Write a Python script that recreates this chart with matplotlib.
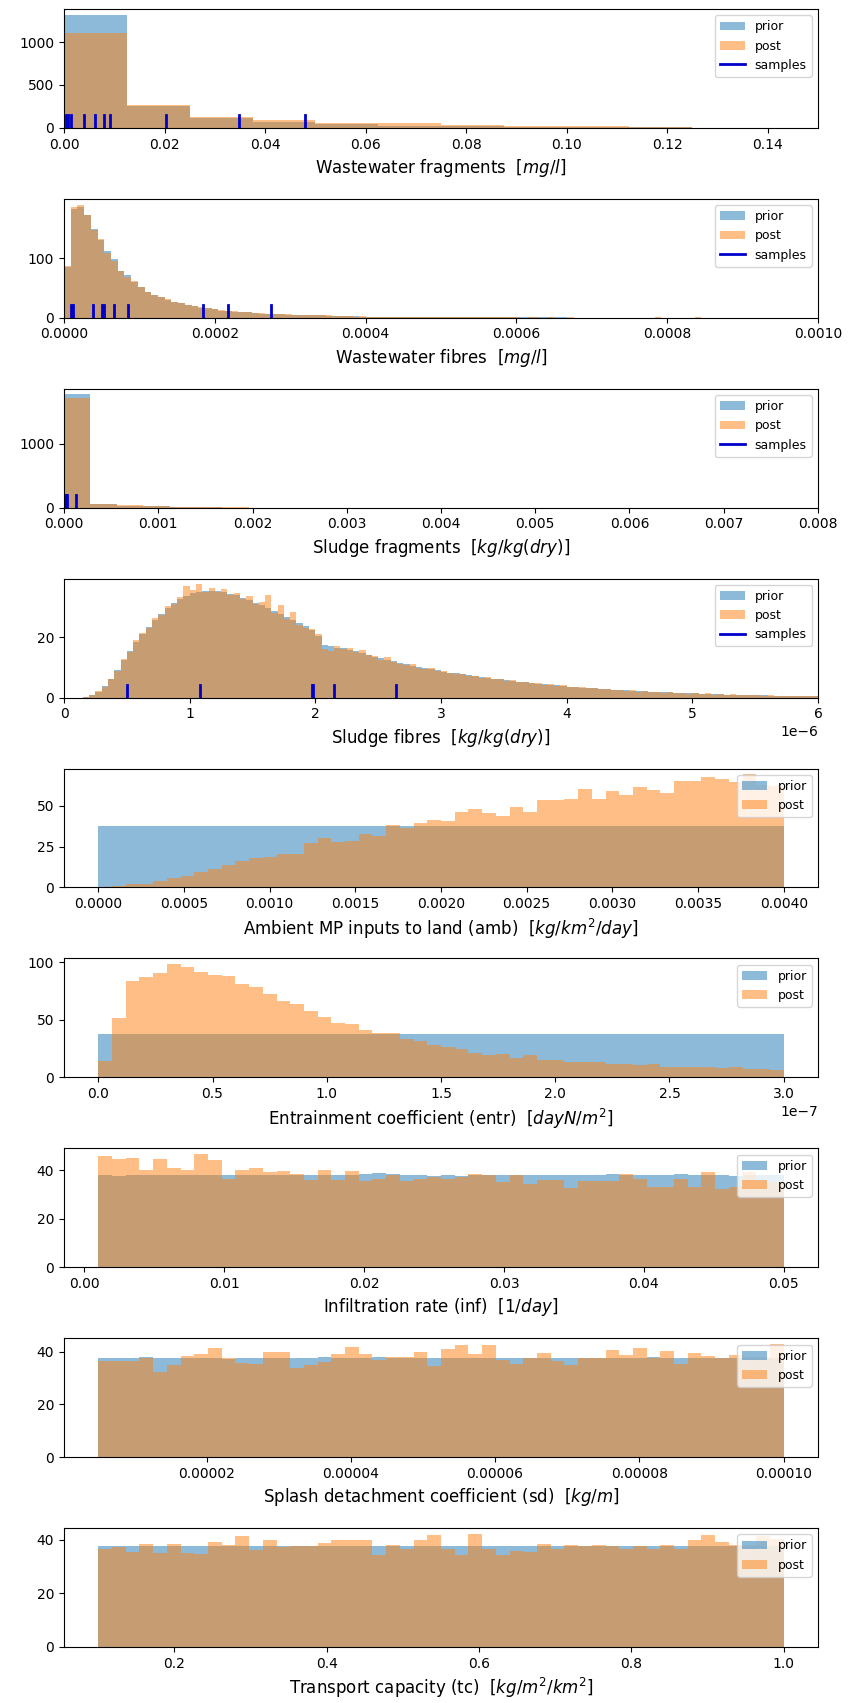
import numpy as np
import matplotlib
matplotlib.use('Agg')
import matplotlib.pyplot as plt

# ---- panel 1: wastewater fragments (bin counts)
frag_lo, frag_width = 0.0, 0.0125
frag_prior = [1320, 252, 112, 72, 40, 24, 16, 12, 10, 6, 4, 3]
frag_post = [1110, 268, 128, 88, 56, 56, 32, 24, 24, 8, 4, 3]
frag_samples = [0.0003, 0.0007, 0.0013, 0.0039, 0.0062, 0.0079, 0.0092, 0.0203, 0.0349, 0.0479]

# ---- panel 2: wastewater fibres
fib_lo, fib_width = 0.0, 0.0000089
fib_post = [87, 186, 190, 173, 147, 132, 108, 95, 79, 68,
            61, 51, 44, 38, 34, 31, 27, 24, 21, 20,
            18, 16, 14, 13, 11, 11, 10, 9, 8, 8,
            7, 7, 6, 6, 5, 5, 5, 4, 4, 4,
            3, 3, 3, 2, 3, 2, 2, 2, 2, 2,
            2, 1, 2, 1, 1, 1, 2, 1, 1, 1,
            1, 1, 1, 1, 1, 1, 1, 1, 0, 1,
            1, 0, 1, 0, 0, 1, 0, 0, 0, 0,
            0, 0, 0, 0, 0, 0, 0, 0, 1, 0,
            0, 0, 0, 0, 1]
fib_prior = [85, 182, 186, 172, 149, 131, 112, 98, 78, 71,
             60, 52, 43, 39, 35, 30, 27, 25, 21, 19,
             17, 16, 14, 12, 11, 10, 10, 9, 8, 7,
             7, 6, 6, 5, 5, 5, 4, 4, 4, 3,
             3, 3, 3, 3, 2, 2, 2, 2, 2, 2,
             2, 2, 1, 1, 1, 1, 1, 1, 1, 1,
             1, 1, 1, 1, 1, 1, 1, 1, 1, 1,
             1, 1, 1, 1, 1, 0, 0]
fib_samples = [0.0000086, 0.0000115, 0.000038, 0.000051, 0.000053, 0.000066, 0.000085,
               0.000184, 0.000218, 0.000274]

# ---- panel 3: sludge fragments
sfrag_lo, sfrag_width = 0.0, 0.00028
sfrag_prior = [1765, 55, 30, 20, 12, 8, 0]
sfrag_post = [1715, 62, 36, 26, 16, 14, 14]
sfrag_samples = [0.000008, 0.000018, 0.00003, 0.000125]

# ---- panel 4: sludge fibres
sfib_lo, sfib_width = 0.15e-6, 0.05e-6
sfib_prior = [0.2, 0.8, 2.0, 3.8, 6.0, 9.0, 12.5, 15.5, 18.5, 21.0,
              23.5, 25.8, 27.8, 29.8, 31.5, 32.8, 33.8, 34.6, 35.2, 35.5,
              35.5, 35.3, 35.0, 34.5, 33.9, 33.2, 32.4, 31.5, 30.6, 29.6,
              28.6, 27.6, 26.6, 25.6, 24.6, 23.6, 22.5, 20.5, 17.5, 17.0,
              16.5, 16.3, 15.9, 15.4, 14.8, 14.2, 13.6, 13.0, 12.5, 12.0,
              11.5, 11.0, 10.6, 10.2, 9.8, 9.4, 9.0, 8.6, 8.3, 8.0,
              7.7, 7.4, 7.1, 6.8, 6.5, 6.2, 6.0, 5.7, 5.5, 5.2,
              5.0, 4.8, 4.6, 4.4, 4.2, 4.0, 3.8, 3.6, 3.5, 3.3,
              3.2, 3.0, 2.9, 2.8, 2.6, 2.5, 2.4, 2.3, 2.2, 2.1,
              2.0, 1.9, 1.8, 1.7, 1.6, 1.5, 1.4, 1.35, 1.3, 1.2,
              1.15, 1.1, 1.0, 0.95, 0.9, 0.85, 0.8, 0.75, 0.7, 0.65,
              0.6, 0.58, 0.55, 0.5, 0.48, 0.45, 0.42]
sfib_post = [0.1, 1.0, 2.3, 3.5, 6.3, 8.8, 12.8, 15.2, 19.0, 21.4,
             23.2, 26.3, 27.5, 30.4, 31.2, 33.5, 36.9, 35.8, 37.6, 35.0,
             36.4, 35.0, 36.0, 34.0, 34.8, 32.7, 33.6, 31.0, 31.8, 33.9,
             28.0, 30.6, 26.2, 28.4, 24.1, 23.2, 22.8, 21.0, 16.0, 15.5,
             17.2, 16.0, 16.4, 15.0, 15.8, 14.0, 13.9, 12.6, 13.3, 11.7,
             11.2, 10.8, 11.2, 9.8, 9.6, 9.8, 8.7, 8.9, 8.0, 7.8,
             7.9, 7.0, 7.3, 6.6, 6.7, 6.0, 6.2, 5.5, 5.8, 5.0,
             5.1, 4.7, 4.7, 4.2, 4.4, 3.8, 4.1, 3.5, 3.4, 3.4,
             3.0, 3.1, 2.7, 2.9, 2.5, 2.6, 2.2, 2.4, 2.0, 2.2,
             1.9, 2.0, 1.6, 1.8, 1.5, 1.6, 1.3, 1.5, 1.2, 1.4,
             1.0, 1.2, 0.9, 1.1, 0.8, 0.9, 0.7, 0.8, 0.6, 0.8,
             0.5, 0.6, 0.5, 0.6, 0.4, 0.5, 0.4]
sfib_samples = [0.504e-6, 1.086e-6, 1.972e-6, 1.985e-6, 2.147e-6, 2.638e-6]

# ---- panel 5: ambient inputs (amb)
amb_lo, amb_width = 0.0, 0.00008
amb_prior = [38] * 50
amb_post = [0, 1, 1.8, 2.2, 4, 5.5, 7, 9.5, 11.5, 14,
            16.5, 18, 18.5, 20.5, 20.5, 27, 30.5, 27.7, 28.5, 33,
            31.5, 38.5, 36.5, 39.5, 41.5, 40.5, 46.5, 48, 46, 44,
            49.5, 46.5, 53.5, 53.5, 54, 60.5, 54.5, 59.5, 57, 61.5,
            60, 58, 65.5, 65.5, 68, 66.5, 64.5, 69.5, 63, 62]

# ---- panel 6: entrainment coefficient (entr)
entr_lo, entr_width = 0.0, 0.06e-7
entr_prior = [38] * 50
entr_post = [14.5, 52, 84, 87.5, 91, 98.5, 96, 92, 89, 88,
             81.5, 78.5, 72.5, 66.5, 64, 57.5, 52.5, 47.5, 46, 41,
             38.5, 38.5, 33, 31.5, 28, 26, 24.5, 21, 19.5, 20,
             17, 19.5, 15, 15, 13.5, 13.5, 13, 12, 11.5, 10.5,
             12, 9, 9, 9, 9, 8, 9, 7.5, 7.5, 6.5]

# ---- panel 7: infiltration rate (inf)
inf_lo, inf_width = 0.001, 0.00098
inf_prior = [38.1, 37.7, 37.9, 37.8, 37.8, 37.8, 37.8, 37.8, 38.0, 37.9,
             37.9, 37.8, 37.8, 37.8, 37.9, 38.0, 37.8, 38.0, 37.8, 38.2,
             38.6, 38.3, 37.8, 37.8, 37.7, 37.8, 37.6, 37.8, 37.9, 37.9,
             37.8, 37.9, 37.8, 37.9, 37.8, 37.9, 37.8, 38.2, 37.9, 38.0,
             37.8, 37.8, 38.3, 37.8, 37.9, 37.8, 37.7, 37.8, 37.8, 37.8]
inf_post = [45.9, 44.5, 45.0, 40.1, 44.6, 41.0, 39.9, 46.6, 44.0, 36.5,
            40.1, 41.0, 39.1, 39.8, 38.5, 36.0, 40.1, 36.0, 39.8, 35.6,
            36.4, 37.8, 35.6, 36.3, 37.1, 36.5, 37.1, 38.5, 37.8, 34.9,
            37.8, 34.2, 36.0, 36.0, 32.7, 35.3, 35.3, 35.6, 38.5, 36.3,
            33.2, 33.2, 36.3, 33.2, 39.1, 32.3, 33.2, 39.4, 35.0, 35.0]

# ---- panel 8: splash detachment coefficient (sd)
sd_lo, sd_width = 0.000005, 0.0000019
sd_prior = [37.7, 37.7, 37.7, 38.1, 37.7, 37.7, 37.7, 37.7, 37.7, 37.4,
            37.7, 37.7, 37.7, 37.7, 37.7, 37.7, 38.1, 37.7, 37.7, 37.7,
            38.1, 37.7, 37.7, 37.7, 37.7, 37.7, 37.7, 37.7, 37.7, 37.7,
            37.7, 37.7, 37.7, 37.7, 37.7, 37.7, 37.7, 37.7, 37.7, 37.7,
            38.1, 37.7, 37.7, 37.7, 37.7, 37.7, 37.7, 37.7, 37.7, 37.7]
sd_post = [36.4, 36.4, 36.4, 37.7, 32.3, 34.9, 38.3, 39.2, 41.4, 37.7,
           35.9, 35.2, 39.9, 40.1, 33.9, 34.9, 36.2, 39.0, 41.8, 39.0,
           36.7, 38.1, 38.0, 40.0, 34.5, 41.1, 42.4, 39.2, 42.4, 36.8,
           35.2, 37.5, 39.4, 36.4, 34.8, 37.7, 37.7, 40.5, 38.7, 41.4,
           37.7, 40.3, 35.4, 39.4, 38.3, 37.5, 38.9, 38.0, 38.0, 43.0]

# ---- panel 9: transport capacity (tc)
tc_lo, tc_width = 0.1, 0.018
tc_prior = [37.9, 37.9, 37.9, 37.9, 37.9, 37.9, 37.9, 37.9, 37.9, 37.9,
            37.9, 37.9, 37.9, 37.6, 37.7, 37.7, 37.9, 37.9, 37.9, 37.9,
            37.9, 37.9, 37.9, 37.9, 37.9, 37.9, 37.9, 37.9, 37.9, 37.9,
            37.9, 37.9, 37.9, 37.9, 37.9, 37.9, 37.9, 37.9, 37.9, 37.9,
            37.9, 37.9, 37.9, 37.9, 37.9, 37.9, 37.9, 37.9, 37.9, 37.9]
tc_post = [36.7, 37.3, 35.4, 38.5, 35.2, 38.5, 35.2, 34.6, 39.4, 38.3,
           41.4, 36.2, 39.8, 37.4, 37.7, 37.7, 38.8, 40.1, 40.1, 39.8,
           34.2, 38.3, 36.8, 39.8, 42.0, 36.7, 34.2, 42.3, 36.8, 34.3,
           36.0, 35.6, 38.5, 36.8, 38.3, 37.7, 38.0, 37.8, 36.7, 37.7,
           36.7, 38.0, 36.7, 40.1, 42.0, 39.1, 38.3, 38.0, 41.5, 40.5]


def edges(lo, width, counts):
    return lo + width * np.arange(len(counts) + 1)


def panel(ax, lo, width, prior, post, xlabel, samples=None, xlim=None):
    ax.stairs(prior, edges(lo, width, prior), fill=True, color='C0', alpha=0.5, label='prior')
    ax.stairs(post, edges(lo, width, post), fill=True, color='C1', alpha=0.5, label='post')
    if samples is not None:
        for i, s in enumerate(samples):
            ax.axvline(s, ymin=0, ymax=0.105, color='#0000cc', lw=2,
                       label='samples' if i == 0 else None)
    if xlim is not None:
        ax.set_xlim(*xlim)
    ax.set_xlabel(xlabel, fontsize=12)
    ax.legend(loc='upper right', fontsize=9)


fig, axes = plt.subplots(9, 1, figsize=(8.48, 17.03), dpi=100)
fig.subplots_adjust(left=0.0755, right=0.9646, top=0.9947, bottom=0.0329, hspace=0.598)

panel(axes[0], frag_lo, frag_width, frag_prior, frag_post,
      'Wastewater fragments  [$mg/l$]', frag_samples, (0, 0.15))
panel(axes[1], fib_lo, fib_width, fib_prior, fib_post,
      'Wastewater fibres  [$mg/l$]', fib_samples, (0, 0.001))
panel(axes[2], sfrag_lo, sfrag_width, sfrag_prior, sfrag_post,
      'Sludge fragments  [$kg/kg(dry)$]', sfrag_samples, (0, 0.008))
panel(axes[3], sfib_lo, sfib_width, sfib_prior, sfib_post,
      'Sludge fibres  [$kg/kg(dry)$]', sfib_samples, (0, 6e-6))
panel(axes[4], amb_lo, amb_width, amb_prior, amb_post,
      'Ambient MP inputs to land (amb)  [$kg/km^2/day$]')
panel(axes[5], entr_lo, entr_width, entr_prior, entr_post,
      'Entrainment coefficient (entr)  [$dayN/m^2$]')
panel(axes[6], inf_lo, inf_width, inf_prior, inf_post,
      'Infiltration rate (inf)  [$1/day$]')
panel(axes[7], sd_lo, sd_width, sd_prior, sd_post,
      'Splash detachment coefficient (sd)  [$kg/m$]')
panel(axes[8], tc_lo, tc_width, tc_prior, tc_post,
      'Transport capacity (tc)  [$kg/m^2/km^2$]')

axes[0].set_yticks([0, 500, 1000])
axes[1].set_yticks([0, 100])
axes[2].set_yticks([0, 1000])
axes[3].set_yticks([0, 20])
axes[4].set_yticks([0, 25, 50])
axes[7].set_xticks([0.00002, 0.00004, 0.00006, 0.00008, 0.0001])

plt.savefig('out.png')
